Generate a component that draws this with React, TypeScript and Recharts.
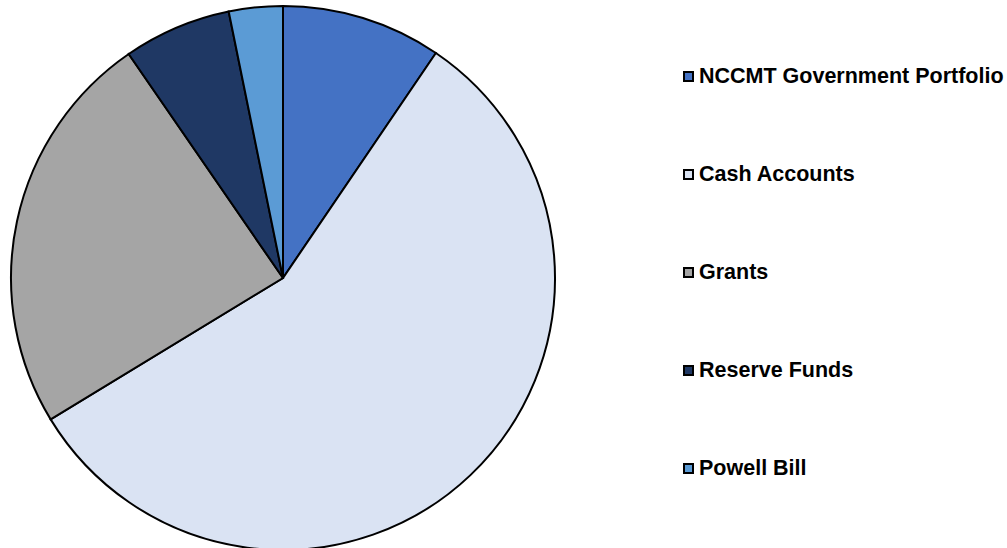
import { PieChart, Pie, Cell, Legend } from "recharts";

const categories = [
  "NCCMT Government Portfolio",
  "Cash Accounts",
  "Grants",
  "Reserve Funds",
  "Powell Bill",
];
const values = [9.5, 56.8, 24.1, 6.4, 3.2];
const colors = ["#4472C4", "#DAE3F3", "#A5A5A5", "#1F3864", "#5B9BD5"];

const chartData = categories.map((name, i) => ({
  name,
  value: values[i],
  color: colors[i],
}));

const renderLegend = () => (
  <div style={{ paddingTop: 27 }}>
    {chartData.map((entry) => (
      <div
        key={entry.name}
        style={{
          height: 98,
          display: "flex",
          alignItems: "center",
          fontFamily: "'Liberation Sans', Arial, sans-serif",
          fontWeight: "bold",
          fontSize: 21.5,
          color: "#000",
          whiteSpace: "nowrap",
        }}>
        <span
          style={{
            display: "inline-block",
            width: 7,
            height: 7,
            background: entry.color,
            border: "2px solid #000",
            marginRight: 5,
          }}
        />
        {entry.name}
      </div>
    ))}
  </div>
);

const App = () => {
  return (
    <div style={{ position: "absolute", left: 0, top: 0 }}>
      <PieChart
        width={1007}
        height={548}
        margin={{ top: 0, right: 0, bottom: 0, left: 0 }}>
        <Pie
          data={chartData}
          dataKey="value"
          cx={283}
          cy={278}
          outerRadius={272}
          startAngle={90}
          endAngle={-270}
          stroke="#000"
          strokeWidth={2}
          isAnimationActive={false}>
          {chartData.map((entry, index) => (
            <Cell key={`cell-${index}`} fill={entry.color} />
          ))}
        </Pie>
        <Legend
          content={renderLegend}
          layout="vertical"
          wrapperStyle={{ left: 683, top: 0, width: 324 }}
        />
      </PieChart>
    </div>
  );
};

export default App;
